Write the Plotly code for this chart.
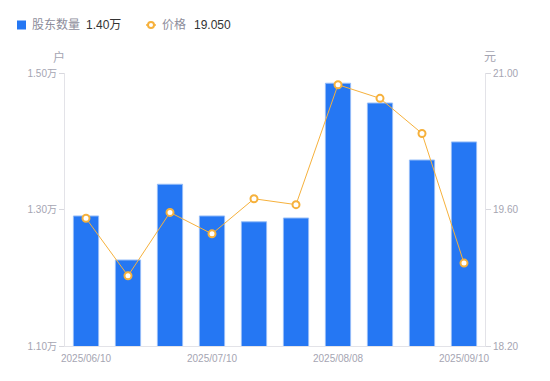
import plotly.graph_objects as go

dates = ["2025/06/10", "2025/06/20", "2025/06/30", "2025/07/10", "2025/07/20",
         "2025/07/31", "2025/08/08", "2025/08/20", "2025/08/31", "2025/09/10"]
holders_wan = [1.2905, 1.226, 1.337, 1.2905, 1.282, 1.2875, 1.485, 1.456, 1.3725, 1.399]
prices = [19.51, 18.92, 19.57, 19.35, 19.71, 19.65, 20.88, 20.74, 20.38, 19.05]
x_tick_labels = ["2025/06/10", "2025/07/10", "2025/08/08", "2025/09/10"]
left_ticks = [1.10, 1.30, 1.50]
right_ticks = [18.20, 19.60, 21.00]

W, H = 550, 381
L, R, T, B = 65, 65, 73, 35
PW, PH = W - L - R, H - T - B

def px(x):
    return (x - L) / PW

def py(y):
    return (H - B - y) / PH

FONT = "Liberation Sans, Arial, Noto Sans CJK SC"
GRAY = "#a5a5b2"
BLUE = "#2577F3"
ORANGE = "#F6B13C"

fig = go.Figure()
fig.add_trace(go.Bar(
    x=dates, y=holders_wan, name="股东数量",
    marker=dict(color=BLUE, line=dict(color="#94BCF8", width=1)),
    yaxis="y", showlegend=False,
))
fig.add_trace(go.Scatter(
    x=dates, y=prices, name="价格", mode="lines+markers",
    line=dict(color=ORANGE, width=1),
    marker=dict(symbol="circle", size=7, color="white", line=dict(color=ORANGE, width=2)),
    yaxis="y2", showlegend=False,
))

fig.update_layout(
    width=W, height=H,
    margin=dict(l=L, r=R, t=T, b=B, pad=0, autoexpand=False),
    paper_bgcolor="white", plot_bgcolor="white",
    font=dict(family=FONT, size=10, color=GRAY),
    bargap=0.4,
    xaxis=dict(
        type="category", tickmode="array", tickvals=x_tick_labels, ticktext=x_tick_labels,
        range=[-0.5, len(dates) - 0.5],
        showgrid=False, showline=True, linecolor="#e3e3e8", linewidth=1,
        ticks="outside", ticklen=3, tickcolor="rgba(0,0,0,0)",
        tickfont=dict(size=10, color=GRAY), zeroline=False,
    ),
    yaxis=dict(
        range=[1.10, 1.50], tickmode="array", tickvals=left_ticks,
        ticktext=[f"{v:.2f}万" for v in left_ticks],
        showgrid=False, showline=True, linecolor="#e3e3e8", linewidth=1,
        ticks="outside", ticklen=5, tickcolor="#d8d8de", tickfont=dict(size=10, color=GRAY),
        zeroline=False,
    ),
    yaxis2=dict(
        range=[18.20, 21.00], tickmode="array", tickvals=right_ticks,
        ticktext=[f"{v:.2f}" for v in right_ticks],
        overlaying="y", side="right",
        showgrid=False, showline=True, linecolor="#e3e3e8", linewidth=1,
        ticks="outside", ticklen=5, tickcolor="#d8d8de", tickfont=dict(size=10, color=GRAY),
        zeroline=False,
    ),
    showlegend=False,
)

# Axis unit titles
fig.add_annotation(x=px(59), y=py(57), xref="paper", yref="paper", text="户",
                   showarrow=False, font=dict(size=12, color=GRAY), xanchor="center", yanchor="middle")
fig.add_annotation(x=px(490), y=py(57), xref="paper", yref="paper", text="元",
                   showarrow=False, font=dict(size=12, color=GRAY), xanchor="center", yanchor="middle")

# Legend (custom)
ly = 25
fig.add_shape(type="rect", xref="paper", yref="paper",
              x0=px(17), x1=px(26), y0=py(ly - 4.5), y1=py(ly + 4.5),
              fillcolor=BLUE, line=dict(width=0))
fig.add_annotation(x=px(30), y=py(ly), xref="paper", yref="paper", xanchor="left", yanchor="middle",
                   text="股东数量", showarrow=False, font=dict(size=12, color="#8d8d9b"))
fig.add_annotation(x=px(84), y=py(ly), xref="paper", yref="paper", xanchor="left", yanchor="middle",
                   text="1.40万", showarrow=False, font=dict(size=12, color="#333333"))
fig.add_shape(type="line", xref="paper", yref="paper",
              x0=px(146), x1=px(156), y0=py(ly), y1=py(ly), line=dict(color=ORANGE, width=1.5))
fig.add_shape(type="circle", xref="paper", yref="paper",
              x0=px(148), x1=px(154), y0=py(ly - 3), y1=py(ly + 3),
              fillcolor="white", line=dict(color=ORANGE, width=2))
fig.add_annotation(x=px(160), y=py(ly), xref="paper", yref="paper", xanchor="left", yanchor="middle",
                   text="价格", showarrow=False, font=dict(size=12, color="#8d8d9b"))
fig.add_annotation(x=px(192), y=py(ly), xref="paper", yref="paper", xanchor="left", yanchor="middle",
                   text="19.050", showarrow=False, font=dict(size=12, color="#333333"))

fig.write_html("out.html", config={"displayModeBar": False},
               post_script="document.body.style.margin='0';")
